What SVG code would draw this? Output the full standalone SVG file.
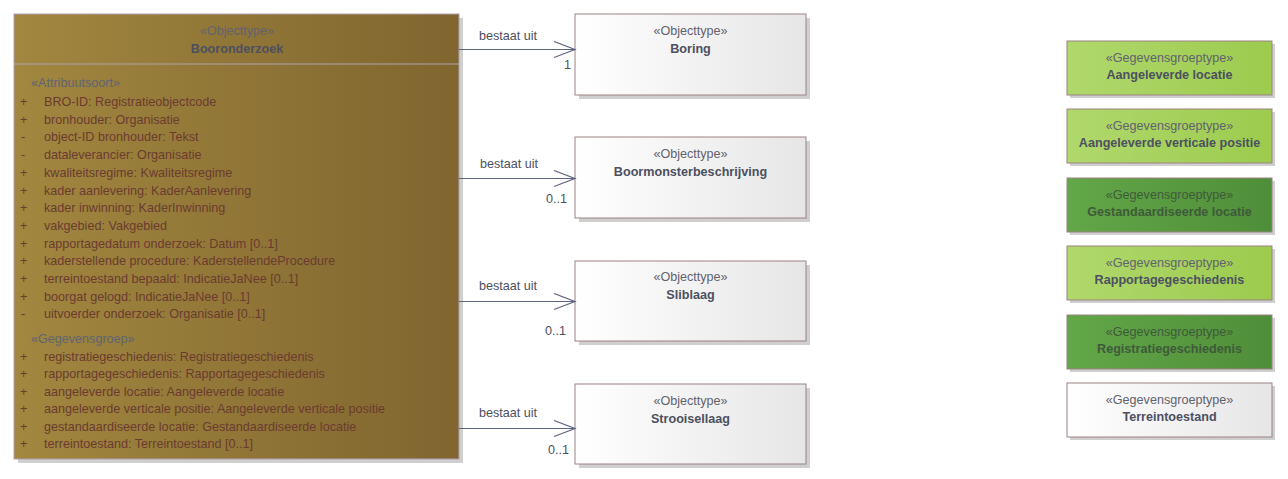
<svg xmlns="http://www.w3.org/2000/svg" width="1288" height="479" viewBox="0 0 1288 479">
<defs>
<linearGradient id="gBrown" x1="0" y1="0" x2="1" y2="0"><stop offset="0" stop-color="#a1873f"/><stop offset="1" stop-color="#80652f"/></linearGradient>
<linearGradient id="gWhite" x1="0" y1="0" x2="1" y2="0"><stop offset="0" stop-color="#ffffff"/><stop offset="1" stop-color="#e6e6e6"/></linearGradient>
<linearGradient id="gLight" x1="0" y1="0" x2="1" y2="0"><stop offset="0" stop-color="#b0d86c"/><stop offset="1" stop-color="#9ccb4e"/></linearGradient>
<linearGradient id="gDark" x1="0" y1="0" x2="1" y2="0"><stop offset="0" stop-color="#62a748"/><stop offset="1" stop-color="#4f8e39"/></linearGradient>
<marker id="open" markerWidth="24" markerHeight="18" refX="22" refY="9" orient="auto" markerUnits="userSpaceOnUse"><path d="M1,1 L22,9 L1,17" fill="none" stroke="#5d6582" stroke-width="1.2"/></marker>
</defs>
<style>
text{font-family:"Liberation Sans",Arial,sans-serif;font-size:12.6px}
.st{fill:#62626f;text-anchor:middle}
.nm{fill:#4c5060;font-weight:bold;text-anchor:middle}
.sec{fill:#5f6472}
.at{fill:#6b3b30}
.shadow{fill:#cfcfcf}
.box{stroke:#9c8282;stroke-width:1}
.lbl{fill:#4d5060}
.conn{stroke:#5d6582;stroke-width:1.2;fill:none}
.dk{fill:#3f5a3a}
</style>

<g id="Booronderzoek">
<rect class="shadow" x="18" y="18" width="445" height="445"/>
<rect x="14" y="14" width="445" height="445" fill="url(#gBrown)" stroke="#b3a0b3"/>
<line x1="14" y1="64" x2="459" y2="64" stroke="#b3a0b3"/>
<text class="st" x="237" y="35">«Objecttype»</text>
<text class="nm" x="237" y="53">Booronderzoek</text>
<text class="sec" x="31" y="87">«Attribuutsoort»</text>
<g class="at">
<text x="20" y="106">+</text><text x="44" y="106">BRO-ID: Registratieobjectcode</text>
<text x="20" y="123.7">+</text><text x="44" y="123.7">bronhouder: Organisatie</text>
<text x="21" y="141.4">-</text><text x="44" y="141.4">object-ID bronhouder: Tekst</text>
<text x="21" y="159.1">-</text><text x="44" y="159.1">dataleverancier: Organisatie</text>
<text x="20" y="176.8">+</text><text x="44" y="176.8">kwaliteitsregime: Kwaliteitsregime</text>
<text x="20" y="194.5">+</text><text x="44" y="194.5">kader aanlevering: KaderAanlevering</text>
<text x="20" y="212.2">+</text><text x="44" y="212.2">kader inwinning: KaderInwinning</text>
<text x="20" y="229.9">+</text><text x="44" y="229.9">vakgebied: Vakgebied</text>
<text x="20" y="247.6">+</text><text x="44" y="247.6">rapportagedatum onderzoek: Datum [0..1]</text>
<text x="20" y="265.3">+</text><text x="44" y="265.3">kaderstellende procedure: KaderstellendeProcedure</text>
<text x="20" y="283">+</text><text x="44" y="283">terreintoestand bepaald: IndicatieJaNee [0..1]</text>
<text x="20" y="300.7">+</text><text x="44" y="300.7">boorgat gelogd: IndicatieJaNee [0..1]</text>
<text x="21" y="318.4">-</text><text x="44" y="318.4">uitvoerder onderzoek: Organisatie [0..1]</text>
</g>
<text class="sec" x="31" y="342.7">«Gegevensgroep»</text>
<g class="at">
<text x="20" y="360.8">+</text><text x="44" y="360.8">registratiegeschiedenis: Registratiegeschiedenis</text>
<text x="20" y="378.3">+</text><text x="44" y="378.3">rapportagegeschiedenis: Rapportagegeschiedenis</text>
<text x="20" y="395.8">+</text><text x="44" y="395.8">aangeleverde locatie: Aangeleverde locatie</text>
<text x="20" y="413.3">+</text><text x="44" y="413.3">aangeleverde verticale positie: Aangeleverde verticale positie</text>
<text x="20" y="430.8">+</text><text x="44" y="430.8">gestandaardiseerde locatie: Gestandaardiseerde locatie</text>
<text x="20" y="448.3">+</text><text x="44" y="448.3">terreintoestand: Terreintoestand [0..1]</text>
</g>
</g>

<g id="Boring">
<rect class="shadow" x="579" y="18" width="231" height="81"/>
<rect class="box" x="575" y="14" width="231" height="81" fill="url(#gWhite)"/>
<text class="st" x="690.5" y="35">«Objecttype»</text>
<text class="nm" x="690.5" y="53">Boring</text>
</g>
<g id="Boormonsterbeschrijving">
<rect class="shadow" x="579" y="141" width="231" height="81"/>
<rect class="box" x="575" y="137" width="231" height="81" fill="url(#gWhite)"/>
<text class="st" x="690.5" y="158">«Objecttype»</text>
<text class="nm" x="690.5" y="176">Boormonsterbeschrijving</text>
</g>
<g id="Sliblaag">
<rect class="shadow" x="579" y="265" width="231" height="80"/>
<rect class="box" x="575" y="261" width="231" height="80" fill="url(#gWhite)"/>
<text class="st" x="690.5" y="281">«Objecttype»</text>
<text class="nm" x="690.5" y="299">Sliblaag</text>
</g>
<g id="Strooisellaag">
<rect class="shadow" x="579" y="388" width="231" height="80"/>
<rect class="box" x="575" y="384" width="231" height="80" fill="url(#gWhite)"/>
<text class="st" x="690.5" y="405">«Objecttype»</text>
<text class="nm" x="690.5" y="423">Strooisellaag</text>
</g>

<g id="AangeleverdeLocatie">
<rect class="shadow" x="1070" y="44" width="205" height="54"/>
<rect class="box" x="1067" y="41" width="205" height="54" fill="url(#gLight)"/>
<text class="st" x="1169.5" y="62">«Gegevensgroeptype»</text>
<text class="nm" x="1169.5" y="79">Aangeleverde locatie</text>
</g>
<g id="AangeleverdeVerticalePositie">
<rect class="shadow" x="1070" y="112" width="205" height="54"/>
<rect class="box" x="1067" y="109" width="205" height="54" fill="url(#gLight)"/>
<text class="st" x="1169.5" y="130">«Gegevensgroeptype»</text>
<text class="nm" x="1169.5" y="147">Aangeleverde verticale positie</text>
</g>
<g id="GestandaardiseerdeLocatie">
<rect class="shadow" x="1070" y="181" width="205" height="54"/>
<rect class="box" x="1067" y="178" width="205" height="54" fill="url(#gDark)"/>
<text class="st dk" x="1169.5" y="199">«Gegevensgroeptype»</text>
<text class="nm dk" x="1169.5" y="216">Gestandaardiseerde locatie</text>
</g>
<g id="Rapportagegeschiedenis">
<rect class="shadow" x="1070" y="249" width="205" height="54"/>
<rect class="box" x="1067" y="246" width="205" height="54" fill="url(#gLight)"/>
<text class="st" x="1169.5" y="267">«Gegevensgroeptype»</text>
<text class="nm" x="1169.5" y="284">Rapportagegeschiedenis</text>
</g>
<g id="Registratiegeschiedenis">
<rect class="shadow" x="1070" y="318" width="205" height="54"/>
<rect class="box" x="1067" y="315" width="205" height="54" fill="url(#gDark)"/>
<text class="st dk" x="1169.5" y="336">«Gegevensgroeptype»</text>
<text class="nm dk" x="1169.5" y="353">Registratiegeschiedenis</text>
</g>
<g id="Terreintoestand">
<rect class="shadow" x="1070" y="386" width="205" height="54"/>
<rect class="box" x="1067" y="383" width="205" height="54" fill="url(#gWhite)"/>
<text class="st" x="1169.5" y="404">«Gegevensgroeptype»</text>
<text class="nm" x="1169.5" y="421">Terreintoestand</text>
</g>

<g id="connectors">
<line class="conn" x1="459" y1="49.5" x2="575" y2="49.5" marker-end="url(#open)"/>
<text class="lbl" x="479" y="39.5">bestaat uit</text>
<text class="lbl" x="564" y="68.5">1</text>
<line class="conn" x1="459" y1="178.5" x2="575" y2="178.5" marker-end="url(#open)"/>
<text class="lbl" x="480" y="168">bestaat uit</text>
<text class="lbl" x="546" y="203">0..1</text>
<line class="conn" x1="459" y1="301.5" x2="575" y2="301.5" marker-end="url(#open)"/>
<text class="lbl" x="479" y="290">bestaat uit</text>
<text class="lbl" x="545" y="335">0..1</text>
<line class="conn" x1="459" y1="428.5" x2="575" y2="428.5" marker-end="url(#open)"/>
<text class="lbl" x="479" y="416.5">bestaat uit</text>
<text class="lbl" x="548" y="453.5">0..1</text>
</g>
</svg>
